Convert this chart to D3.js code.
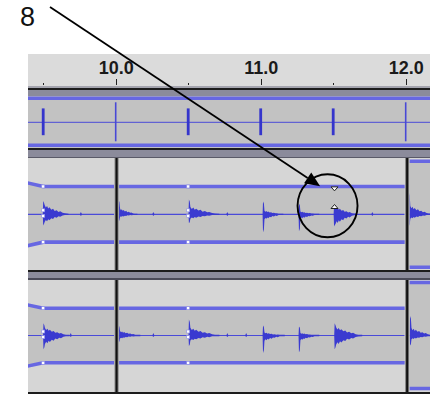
<!DOCTYPE html>
<html><head><meta charset="utf-8">
<script src="https://cdn.jsdelivr.net/npm/d3@7/dist/d3.min.js"></script>
<style>html,body{margin:0;padding:0;background:#fff;}svg{display:block}</style>
</head><body>
<svg id="c" width="430" height="394"></svg>
<script>
// ---------------- data ----------------
const rulerTicks  = [10.0, 11.0, 12.0];
const rulerLabels = ["10.0", "11.0", "12.0"];
const rulerMinor  = [9.5, 10.5, 11.5];

// track 1: click track
const clickTimes  = [9.5, 10.0, 10.5, 11.0, 11.5, 12.0];
const clickAmps   = [0.57, 0.83, 0.57, 0.57, 0.57, 0.83];
const clickAccent = [false, true, false, false, false, true];

// clip boundaries (seconds) in tracks 2 and 3
const clipBounds = [10.006, 12.01];

// envelopes per clip: [time, value]
const envTrack2 = [
  [[9.3, 0.65], [9.5, 0.525], [10.006, 0.525]],
  [[10.006, 0.525], [10.5, 0.525], [12.01, 0.525]],
  [[12.01, 1.0], [12.3, 1.0]]
];
const envTrack3 = [
  [[9.3, 0.63], [9.5, 0.515], [10.006, 0.515]],
  [[10.006, 0.515], [10.5, 0.515], [12.01, 0.515]],
  [[12.01, 1.0], [12.3, 1.0]]
];
const envPointTimes = [9.5, 10.5];
const envInner = [0.075, -0.03];

// hits: time, positive peak, negative peak, body ratio, decay length (s)
const hitsTrack2 = [
  {t: 9.500, up: 0.25, down: 0.21, body: 0.70, len: 0.165},
  {t: 10.020, up: 0.27, down: 0.13, body: 0.40, len: 0.12},
  {t: 10.505, up: 0.28, down: 0.17, body: 0.50, len: 0.20},
  {t: 11.016, up: 0.24, down: 0.34, body: 0.28, len: 0.13},
  {t: 11.264, up: 0.20, down: 0.32, body: 0.26, len: 0.13},
  {t: 11.506, up: 0.17, down: 0.23, body: 0.80, len: 0.15},
  {t: 12.022, up: 0.41, down: 0.22, body: 0.38, len: 0.15}
];
const blipsTrack2 = [9.76, 10.26, 10.77, 11.77];

const hitsTrack3 = [
  {t: 9.502, up: 0.23, down: 0.26, body: 0.62, len: 0.17},
  {t: 10.020, up: 0.19, down: 0.13, body: 0.45, len: 0.14},
  {t: 10.505, up: 0.30, down: 0.20, body: 0.48, len: 0.20},
  {t: 11.016, up: 0.19, down: 0.33, body: 0.30, len: 0.14},
  {t: 11.264, up: 0.17, down: 0.32, body: 0.28, len: 0.13},
  {t: 11.510, up: 0.23, down: 0.26, body: 0.68, len: 0.18},
  {t: 12.030, up: 0.37, down: 0.19, body: 0.38, len: 0.15}
];
const blipsTrack3 = [9.69, 10.26, 10.77, 10.90];

// decay profile of a hit body (fraction of length, relative level)
const decayFrac  = [0, 0.05, 0.1, 0.15, 0.2, 0.28, 0.35, 0.42, 0.5, 0.58, 0.65, 0.75, 0.85, 1];
const decayLevel = [1, 0.72, 0.9, 0.62, 0.76, 0.5, 0.6, 0.36, 0.44, 0.26, 0.32, 0.16, 0.1, 0];

// annotation
const noteLabel = "8";
const noteTarget = {t: 11.41, a: 0.53};
const noteCircle = {t: 11.461, a: 0.16};
const handleTimes = [11.509];
const handleAmps  = [0.48, 0.147];

// ---------------- layout ----------------
const W = 430, H = 394, L = 28;
const svg = d3.select("#c");
const x = d3.scaleLinear().domain([10, 12]).range([115.7, 405.7]);
const tLeft = x.invert(L), tRight = x.invert(W);

const C = {
  ruler: "#dbdbdb", band: "#8b8b9b", dark: "#1c1c1c",
  bgOut: "#d6d6d6", bgIn: "#c2c2c2",
  env: "#6767e2", wave: "#3a3ad0", center: "#4a4ad8"
};

// ---------------- ruler ----------------
svg.append("rect").attr("x", L).attr("y", 54).attr("width", W - L).attr("height", 32).attr("fill", C.ruler);
const axMajor = d3.axisTop(x).tickValues(rulerTicks).tickFormat((d, i) => rulerLabels[i]).tickSize(6).tickPadding(5);
const gMaj = svg.append("g").attr("transform", "translate(0,85)").call(axMajor);
gMaj.select(".domain").remove();
gMaj.selectAll("line").attr("stroke", "#222").attr("shape-rendering", "crispEdges");
gMaj.selectAll("text").attr("fill", "#1a1a1a").attr("font-family", "Liberation Sans, Arial, sans-serif")
  .attr("font-weight", "bold").attr("font-size", 18);
const gMin = svg.append("g").attr("transform", "translate(0,85)")
  .call(d3.axisTop(x).tickValues(rulerMinor).tickFormat("").tickSize(2));
gMin.select(".domain").remove();
gMin.selectAll("line").attr("stroke", "#222").attr("shape-rendering", "crispEdges");

// ---------------- separators ----------------
function hband(y, h, col) {
  svg.append("rect").attr("x", L).attr("y", y).attr("width", W - L).attr("height", h).attr("fill", col);
}
hband(86, 2, "#a4a4ae");
hband(88, 2, C.dark);
hband(90, 6, C.band);
hband(148, 2, C.dark);
hband(150, 7, C.band);
hband(157, 1, "#5a5a68");
hband(270, 2, C.dark);
hband(272, 6, C.band);
hband(278, 2, "#4a4a58");
hband(392, 2, C.dark);

// ---------------- track 1 ----------------
const y1 = d3.scaleLinear().domain([-1, 1]).range([145.3, 98.3]);
svg.append("rect").attr("x", L).attr("y", 96).attr("width", W - L).attr("height", 52).attr("fill", C.bgIn);
[1, -1].forEach(v => {
  svg.append("line").attr("x1", L).attr("x2", W).attr("y1", y1(v)).attr("y2", y1(v))
    .attr("stroke", C.env).attr("stroke-width", 3.4);
});
svg.append("line").attr("x1", L).attr("x2", W).attr("y1", y1(0) + 0.5).attr("y2", y1(0) + 0.5)
  .attr("stroke", C.center).attr("stroke-width", 1);
clickTimes.forEach((t, i) => {
  const w = clickAccent[i] ? 1.6 : 2.8;
  svg.append("rect").attr("x", x(t) - w / 2).attr("width", w)
    .attr("y", y1(clickAmps[i])).attr("height", y1(-clickAmps[i]) - y1(clickAmps[i]))
    .attr("fill", clickAccent[i] ? "#4848d6" : "#3535cc");
});

// ---------------- wave tracks ----------------
function waveTrack(top, bottom, yc, scale, envs, hits, blips, id) {
  const y = d3.scaleLinear().domain([-1, 1]).range([yc + scale, yc - scale]);
  svg.append("rect").attr("x", L).attr("y", top).attr("width", W - L).attr("height", bottom - top).attr("fill", C.bgOut);
  const edges = [tLeft].concat(clipBounds).concat([tRight + 0.1]);
  envs.forEach((env, ci) => {
    const x0 = ci === 0 ? L : x(edges[ci]) + 2.5;
    const x1 = ci === envs.length - 1 ? W : x(edges[ci + 1]) - 2.5;
    const cid = id + "c" + ci;
    svg.append("clipPath").attr("id", cid).append("rect")
      .attr("x", x0).attr("y", top).attr("width", x1 - x0).attr("height", bottom - top);
    const g = svg.append("g").attr("clip-path", `url(#${cid})`);
    const area = d3.area().x(d => x(d[0])).y0(d => y(-d[1])).y1(d => y(d[1]));
    g.append("path").datum(env).attr("d", area).attr("fill", C.bgIn);
    g.append("line").attr("x1", x0).attr("x2", x1).attr("y1", y(0)).attr("y2", y(0))
      .attr("stroke", C.center).attr("stroke-width", 1.2);
    // hits
    const hArea = d3.area().x(d => x(d.t)).y0(d => y(-d.b)).y1(d => y(d.a));
    hits.forEach(h => {
      const pts = [{t: h.t - 0.003, a: 0.01, b: 0.01}, {t: h.t, a: h.up, b: h.down},
                   {t: h.t + 0.006, a: h.up * 0.85, b: h.down * 0.85}];
      decayFrac.forEach((f, k) => {
        pts.push({t: h.t + 0.01 + f * h.len, a: Math.max(0.012, h.up * h.body * decayLevel[k]),
                  b: Math.max(0.012, h.down * h.body * decayLevel[k])});
      });
      g.append("path").datum(pts).attr("d", hArea).attr("fill", C.wave);
    });
    blips.forEach(b => {
      const pts = [{t: b - 0.006, a: 0.01, b: 0.01}, {t: b, a: 0.045, b: 0.03}, {t: b + 0.006, a: 0.01, b: 0.01}];
      g.append("path").datum(pts).attr("d", hArea).attr("fill", C.wave);
    });
    // envelope lines
    const lineT = d3.line().x(d => x(d[0])).y(d => y(d[1]));
    const lineB = d3.line().x(d => x(d[0])).y(d => y(-d[1]));
    g.append("path").datum(env).attr("d", lineT).attr("fill", "none").attr("stroke", C.env).attr("stroke-width", 3.6);
    g.append("path").datum(env).attr("d", lineB).attr("fill", "none").attr("stroke", C.env).attr("stroke-width", 3.6);
  });
  // envelope control points
  envPointTimes.forEach(t => {
    const env = envs.find(e => t >= e[0][0] && t <= e[e.length - 1][0]);
    const v = env.find(p => p[0] === t)[1];
    [v, -v].concat(envInner).forEach(a => {
      svg.append("rect").attr("x", x(t) - 1.5).attr("y", y(a) - 1.5).attr("width", 3).attr("height", 3)
        .attr("fill", "#fff").attr("stroke", "#8a8ae8").attr("stroke-width", 0.6);
    });
  });
  // clip boundaries
  clipBounds.forEach(b => {
    svg.append("rect").attr("x", x(b) - 2).attr("y", top).attr("width", 4).attr("height", bottom - top).attr("fill", "#7c7c7c");
    svg.append("rect").attr("x", x(b) - 1).attr("y", top).attr("width", 2).attr("height", bottom - top).attr("fill", "#111");
  });
  return y;
}
const y2 = waveTrack(158, 270, 214.3, 53, envTrack2, hitsTrack2, blipsTrack2, "t2");
const y3 = waveTrack(280, 392, 335.5, 53, envTrack3, hitsTrack3, blipsTrack3, "t3");

// ---------------- annotation ----------------
handleTimes.forEach(t => {
  const dx = x(t);
  const yd = y2(handleAmps[0]), yu = y2(handleAmps[1]);
  svg.append("path").attr("d", `M${dx - 3.5},${yd - 2}L${dx + 3.5},${yd - 2}L${dx},${yd + 2}Z`)
    .attr("fill", "#fff").attr("stroke", "#222").attr("stroke-width", 1);
  svg.append("path").attr("d", `M${dx - 3.5},${yu + 2}L${dx + 3.5},${yu + 2}L${dx},${yu - 2}Z`)
    .attr("fill", "#fff").attr("stroke", "#222").attr("stroke-width", 1);
});
svg.append("ellipse").attr("cx", x(noteCircle.t)).attr("cy", y2(noteCircle.a)).attr("rx", 30).attr("ry", 31.5)
  .attr("fill", "none").attr("stroke", "#000").attr("stroke-width", 1.9);

const start = [50, 7];
const tip = [x(noteTarget.t), y2(noteTarget.a)];
const dxA = tip[0] - start[0], dyA = tip[1] - start[1], lenA = Math.hypot(dxA, dyA);
const ux = dxA / lenA, uy = dyA / lenA;
const bx = tip[0] - 15 * ux, by = tip[1] - 15 * uy;
svg.append("line").attr("x1", start[0]).attr("y1", start[1]).attr("x2", bx).attr("y2", by)
  .attr("stroke", "#000").attr("stroke-width", 1.8);
svg.append("path").attr("d", `M${tip[0]},${tip[1]}L${bx - 6.5 * uy},${by + 6.5 * ux}L${bx + 6.5 * uy},${by - 6.5 * ux}Z`)
  .attr("fill", "#000");
svg.append("text").attr("x", 20).attr("y", 26).text(noteLabel)
  .attr("font-family", "Liberation Sans, Arial, sans-serif").attr("font-size", 27).attr("fill", "#111");
</script>
</body></html>
